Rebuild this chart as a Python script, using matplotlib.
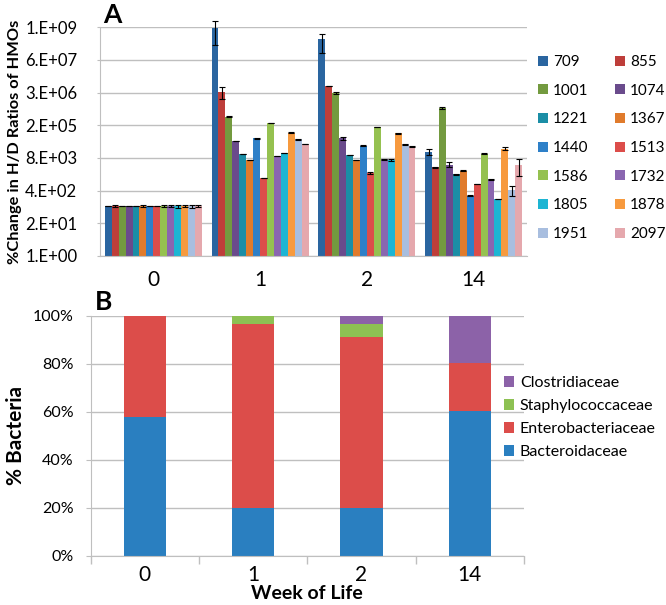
import matplotlib
matplotlib.use("Agg")
import matplotlib.pyplot as plt
import numpy as np
from matplotlib.ticker import FixedLocator, FuncFormatter

plt.rcParams['font.family'] = ['Lato', 'DejaVu Sans']

# ---------------- data: panel A ----------------
weeks = ["0", "1", "2", "14"]
hmos = ["709", "855", "1001", "1074", "1221", "1367", "1440", "1513",
        "1586", "1732", "1805", "1878", "1951", "2097"]
hmo_colors = ["#2A65A0", "#BE3E3A", "#739A3F", "#6A4B8C", "#1B8EA6", "#E07B2C",
              "#2E80C8", "#DC4D4A", "#95C150", "#8A66B0", "#1DB5D3", "#F79A3E",
              "#A8BEDF", "#E5A8AD"]
# values per HMO across weeks 0, 1, 2, 14
val_709  = [98, 1.25e9, 4.2e8, 1.42e4]
val_855  = [97, 3.5e6, 5.8e6, 3.4e3]
val_1001 = [97, 3.5e5, 3.1e6, 8.1e5]
val_1074 = [97, 3.8e4, 4.8e4, 4.4e3]
val_1221 = [97, 1.14e4, 1.05e4, 1.8e3]
val_1367 = [98, 6.7e3, 6.7e3, 2.5e3]
val_1440 = [97, 4.8e4, 2.5e4, 250]
val_1513 = [97, 1.28e3, 1.96e3, 730]
val_1586 = [98, 1.92e5, 1.34e5, 1.2e4]
val_1732 = [97, 9.6e3, 7.1e3, 1.14e3]
val_1805 = [97, 1.29e4, 6.7e3, 184]
val_1878 = [97, 8.2e4, 7.6e4, 1.9e4]
val_1951 = [97, 4.4e4, 2.8e4, 420]
val_2097 = [98, 2.9e4, 2.35e4, 4.4e3]

err_709  = [3, 1.0e9, 3.0e8, 4.0e3]
err_855  = [6, 1.7e6, 0, 100]
err_1001 = [3, 1e4, 4e5, 8e4]
err_1074 = [3, 1e3, 8e3, 1.0e3]
err_1221 = [3, 200, 200, 100]
err_1367 = [6, 150, 150, 80]
err_1440 = [3, 800, 800, 15]
err_1513 = [3, 40, 200, 10]
err_1586 = [6, 3e3, 3e3, 800]
err_1732 = [8, 200, 200, 30]
err_1805 = [14, 200, 800, 6]
err_1878 = [6, 1.5e3, 5e3, 2e3]
err_1951 = [12, 800, 800, 180]
err_2097 = [12, 800, 800, 2.9e3]

values_A = [val_709, val_855, val_1001, val_1074, val_1221, val_1367, val_1440,
            val_1513, val_1586, val_1732, val_1805, val_1878, val_1951, val_2097]
errors_A = [err_709, err_855, err_1001, err_1074, err_1221, err_1367, err_1440,
            err_1513, err_1586, err_1732, err_1805, err_1878, err_1951, err_2097]

# ---------------- data: panel B ----------------
families = ["Bacteroidaceae", "Enterobacteriaceae", "Staphylococcaceae", "Clostridiaceae"]
fam_colors = ["#2A7FC0", "#DC4D4A", "#8DC153", "#8C62A8"]
bacteroidaceae     = [58, 20, 20, 60.5]
enterobacteriaceae = [42, 76.5, 71, 20]
staphylococcaceae  = [0, 3.5, 5.4, 0]
clostridiaceae     = [0, 0, 3.6, 19.5]
values_B = [bacteroidaceae, enterobacteriaceae, staphylococcaceae, clostridiaceae]

GRID = "#BFBFBF"

fig = plt.figure(figsize=(6.66, 6.05), dpi=100)

# ================= Panel A =================
axA = fig.add_axes([100/666, 1-256/605, 427/666, (256-27.3)/605])
x = np.arange(len(weeks))
n = len(hmos)
group_w = 0.91
bw = group_w / n
for i, (name, col, v, e) in enumerate(zip(hmos, hmo_colors, values_A, errors_A)):
    pos = x - group_w/2 + bw*(i+0.5)
    axA.bar(pos, v, width=bw, color=col, label=name, zorder=2)
    axA.errorbar(pos, v, yerr=e, fmt='none', ecolor='black', elinewidth=0.8,
                 capsize=2, capthick=0.8, zorder=3, clip_on=False)
axA.set_yscale('log')
axA.set_ylim(1, 20**7)
axA.set_xlim(-0.5, len(weeks)-0.5)
axA.yaxis.set_major_locator(FixedLocator([20.0**k for k in range(8)]))
axA.yaxis.set_minor_locator(FixedLocator([]))

def excel_fmt(v, pos):
    s = f"{v:.0E}"
    m, ex = s.split("E")
    return f"{m}.E{ex}"
axA.yaxis.set_major_formatter(FuncFormatter(excel_fmt))
axA.grid(axis='y', color=GRID, linewidth=1, zorder=0)
axA.set_axisbelow(True)
for s in ['top', 'right']:
    axA.spines[s].set_visible(False)
axA.spines['left'].set_color(GRID)
axA.spines['bottom'].set_color(GRID)
axA.tick_params(axis='y', length=2.4, color=GRID, labelsize=12, pad=14)
axA.tick_params(axis='x', length=0, labelsize=15, pad=10)
axA.set_xticks(x)
axA.set_xticklabels(weeks)
axA.set_ylabel("%Change in H/D Ratios of HMOs", fontsize=11.8, fontweight='bold')
axA.yaxis.set_label_coords((22-100)/427, 0.5)

handles, labels = axA.get_legend_handles_labels()
order = list(range(0, n, 2)) + list(range(1, n, 2))
legA = fig.legend([handles[k] for k in order], [labels[k] for k in order],
                  loc='upper left', bbox_to_anchor=(538/666, 1-55/605), ncol=2,
                  frameon=False, fontsize=11, handlelength=0.65, handleheight=0.65,
                  handletextpad=0.35, labelspacing=0.96, columnspacing=1.7,
                  borderpad=0, borderaxespad=0)

fig.text(103/666, 1-15/605, "A", fontsize=19, fontweight='bold', va='center', ha='left')

# ================= Panel B =================
axB = fig.add_axes([90.7/666, 1-555.7/605, 433.3/666, 240/605])
bottom = np.zeros(len(weeks))
for name, col, v in zip(families, fam_colors, values_B):
    axB.bar(x, v, width=0.39, bottom=bottom, color=col, label=name, zorder=2)
    bottom += np.array(v)
axB.set_ylim(0, 100)
axB.set_xlim(-0.5, len(weeks)-0.5)
axB.set_yticks(np.arange(0, 101, 20))
axB.set_yticklabels([f"{t}%" for t in range(0, 101, 20)])
axB.grid(axis='y', color=GRID, linewidth=1, zorder=0)
axB.set_axisbelow(True)
for s in ['top', 'right']:
    axB.spines[s].set_visible(False)
axB.spines['left'].set_color(GRID)
axB.spines['bottom'].set_color(GRID)
axB.set_xticks(x)
axB.set_xticklabels(weeks)
axB.set_xticks(np.arange(-0.5, len(weeks)), minor=True)
axB.tick_params(axis='x', which='major', length=0, labelsize=15, pad=7)
axB.tick_params(axis='x', which='minor', length=5.5, color=GRID, width=1)
axB.tick_params(axis='y', length=3.4, color=GRID, labelsize=11.5, pad=9)
axB.set_ylabel("% Bacteria", fontsize=15, fontweight='bold')
axB.yaxis.set_label_coords((26-90.7)/433.3, 0.5)
axB.set_xlabel("Week of Life", fontsize=14, fontweight='bold', labelpad=-0.5)

hB, lB = axB.get_legend_handles_labels()
legB = fig.legend(hB[::-1], lB[::-1], loc='upper left', bbox_to_anchor=(504/666, 1-376/605),
                  frameon=False, fontsize=11.5, handlelength=0.65, handleheight=0.65,
                  handletextpad=0.35, labelspacing=0.57, borderpad=0, borderaxespad=0)

fig.text(95/666, 1-302/605, "B", fontsize=19, fontweight='bold', va='center', ha='left')

fig.savefig("out.png", dpi=100)
